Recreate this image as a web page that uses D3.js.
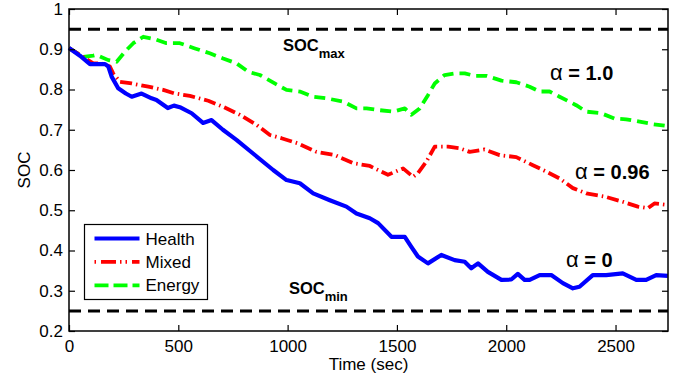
<!DOCTYPE html>
<html>
<head>
<meta charset="utf-8">
<script src="https://cdn.jsdelivr.net/npm/d3@7"></script>
<style>
  body { margin: 0; background: #fff; }
  svg { display: block; font-family: "Liberation Sans", Arial, sans-serif; }
</style>
</head>
<body>
<svg id="chart" width="680" height="377"></svg>
<script>
// SOC traces (time in sec, state of charge)
const healthTime = [0, 50, 96, 165, 180, 195, 225, 260, 287, 332, 378, 400, 452, 480, 507, 561, 613, 652, 704, 766, 842, 934, 995, 1056, 1117, 1193, 1269, 1315, 1376, 1414, 1475, 1536, 1566, 1596, 1642, 1703, 1764, 1810, 1840, 1871, 1916, 1978, 2023, 2053, 2084, 2107, 2153, 2206, 2259, 2305, 2335, 2396, 2457, 2533, 2595, 2640, 2686, 2739];
const healthSoc = [0.903, 0.884, 0.863, 0.863, 0.857, 0.832, 0.803, 0.790, 0.782, 0.790, 0.778, 0.774, 0.754, 0.760, 0.756, 0.741, 0.717, 0.724, 0.700, 0.675, 0.641, 0.600, 0.575, 0.567, 0.542, 0.525, 0.509, 0.492, 0.480, 0.468, 0.434, 0.434, 0.409, 0.385, 0.368, 0.389, 0.376, 0.372, 0.356, 0.368, 0.347, 0.327, 0.328, 0.342, 0.327, 0.327, 0.339, 0.339, 0.319, 0.306, 0.310, 0.339, 0.339, 0.343, 0.327, 0.327, 0.339, 0.337];

const mixedTime = [0, 50, 111, 149, 187, 202, 233, 287, 363, 431, 484, 553, 637, 705, 782, 858, 919, 972, 1048, 1132, 1216, 1299, 1376, 1459, 1528, 1574, 1596, 1635, 1673, 1734, 1787, 1833, 1901, 1970, 2046, 2122, 2183, 2244, 2305, 2366, 2450, 2533, 2602, 2648, 2678, 2739];
const mixedSoc = [0.903, 0.886, 0.865, 0.865, 0.857, 0.840, 0.819, 0.815, 0.807, 0.799, 0.790, 0.784, 0.772, 0.757, 0.737, 0.712, 0.687, 0.679, 0.666, 0.645, 0.637, 0.617, 0.610, 0.588, 0.604, 0.583, 0.592, 0.621, 0.658, 0.658, 0.654, 0.645, 0.651, 0.637, 0.632, 0.612, 0.596, 0.579, 0.555, 0.542, 0.534, 0.521, 0.509, 0.505, 0.517, 0.513];

const energyTime = [0, 65, 111, 126, 180, 218, 256, 294, 340, 393, 446, 507, 576, 644, 705, 766, 820, 873, 941, 995, 1056, 1117, 1178, 1254, 1315, 1361, 1414, 1482, 1536, 1566, 1604, 1642, 1673, 1718, 1764, 1810, 1855, 1909, 1978, 2046, 2107, 2153, 2198, 2244, 2320, 2366, 2434, 2495, 2549, 2610, 2670, 2739];
const energySoc = [0.903, 0.881, 0.884, 0.886, 0.873, 0.869, 0.894, 0.915, 0.931, 0.925, 0.915, 0.915, 0.902, 0.890, 0.877, 0.865, 0.844, 0.836, 0.815, 0.799, 0.795, 0.782, 0.778, 0.770, 0.753, 0.753, 0.749, 0.745, 0.753, 0.737, 0.753, 0.786, 0.815, 0.836, 0.840, 0.840, 0.834, 0.834, 0.822, 0.818, 0.807, 0.795, 0.795, 0.782, 0.761, 0.745, 0.741, 0.728, 0.726, 0.720, 0.714, 0.709];

const seriesNames = ["Health", "Mixed", "Energy"];
const socLimits = [0.95, 0.25];
const xTicks = [0, 500, 1000, 1500, 2000, 2500];
const yTicks = [0.2, 0.3, 0.4, 0.5, 0.6, 0.7, 0.8, 0.9, 1];

// annotation anchors in data units
const alphaLabels = [
  { t: 2200, soc: 0.824, value: "1.0" },
  { t: 2315, soc: 0.577, value: "0.96" },
  { t: 2273, soc: 0.359, value: "0" }
];
const limitLabels = [
  { t: 979, soc: 0.896, sub: "max" },
  { t: 1006, soc: 0.293, sub: "min" }
];

const styles = {
  Health: { color: "#0000ff", dash: null, width: 4.2 },
  Mixed: { color: "#ff0000", dash: "12,4,1.5,4", width: 3.8 },
  Energy: { color: "#00ff00", dash: "11,6", width: 3.8 }
};

const svg = d3.select("#chart");
const mLeft = 69, mRight = 668, mTop = 9, mBottom = 331;

const x = d3.scaleLinear().domain([0, 2740]).range([mLeft, mRight]);
const y = d3.scaleLinear().domain([0.2, 1]).range([mBottom, mTop]);

const series = [
  { name: "Health", pts: d3.zip(healthTime, healthSoc) },
  { name: "Mixed", pts: d3.zip(mixedTime, mixedSoc) },
  { name: "Energy", pts: d3.zip(energyTime, energySoc) }
];

const line = d3.line().x(d => x(d[0])).y(d => y(d[1]));

// SOC limits
svg.append("g")
  .selectAll("line")
  .data(socLimits)
  .join("line")
  .attr("x1", mLeft)
  .attr("x2", mRight)
  .attr("y1", d => y(d))
  .attr("y2", d => y(d))
  .attr("stroke", "#000")
  .attr("stroke-width", 3)
  .attr("stroke-dasharray", "12,7");

// traces, drawn energy first so health is on top
svg.append("g")
  .selectAll("path")
  .data(series.slice().reverse())
  .join("path")
  .attr("d", d => line(d.pts))
  .attr("fill", "none")
  .attr("stroke", d => styles[d.name].color)
  .attr("stroke-width", d => styles[d.name].width)
  .attr("stroke-linejoin", "round")
  .attr("stroke-dasharray", d => styles[d.name].dash);

// axes: ticks pointing inward on all four sides
const fmtY = d => d === 1 ? "1" : d.toFixed(1);
const axes = svg.append("g");

axes.append("g")
  .attr("transform", `translate(0,${mBottom})`)
  .call(d3.axisBottom(x).tickValues(xTicks).tickSizeInner(-6).tickSizeOuter(0).tickPadding(9).tickFormat(d3.format("d")));
axes.append("g")
  .attr("transform", `translate(0,${mTop})`)
  .call(d3.axisTop(x).tickValues(xTicks).tickSizeInner(-6).tickSizeOuter(0).tickFormat(""));
axes.append("g")
  .attr("transform", `translate(${mLeft},0)`)
  .call(d3.axisLeft(y).tickValues(yTicks).tickSizeInner(-6).tickSizeOuter(0).tickPadding(6).tickFormat(fmtY));
axes.append("g")
  .attr("transform", `translate(${mRight},0)`)
  .call(d3.axisRight(y).tickValues(yTicks).tickSizeInner(-6).tickSizeOuter(0).tickFormat(""));

axes.selectAll(".domain").remove();
axes.selectAll(".tick line").attr("stroke", "#000").attr("stroke-width", 1.2);
axes.selectAll(".tick text")
  .attr("fill", "#000")
  .attr("font-size", 17)
  .attr("font-family", "'Liberation Sans', Arial, sans-serif");

svg.append("rect")
  .attr("x", mLeft)
  .attr("y", mTop)
  .attr("width", mRight - mLeft)
  .attr("height", mBottom - mTop)
  .attr("fill", "none")
  .attr("stroke", "#000")
  .attr("stroke-width", 1.5);

// axis titles
svg.append("text")
  .attr("x", (mLeft + mRight) / 2)
  .attr("y", 370)
  .attr("text-anchor", "middle")
  .attr("font-size", 17)
  .attr("font-weight", "normal")
  .text("Time (sec)");

svg.append("text")
  .attr("transform", `translate(29.5,${(mTop + mBottom) / 2}) rotate(-90)`)
  .attr("text-anchor", "middle")
  .attr("font-size", 17)
  .text("SOC");

// SOC_max / SOC_min labels
const lim = svg.append("g")
  .selectAll("text")
  .data(limitLabels)
  .join("text")
  .attr("x", d => x(d.t))
  .attr("y", d => y(d.soc))
  .attr("font-weight", "bold")
  .attr("font-size", 16.5);
lim.append("tspan").text("SOC");
lim.append("tspan")
  .attr("dy", 7.5)
  .attr("font-size", 13)
  .text(d => d.sub);

// alpha labels
const al = svg.append("g")
  .selectAll("text")
  .data(alphaLabels)
  .join("text")
  .attr("x", d => x(d.t))
  .attr("y", d => y(d.soc))
  .attr("font-size", 20);
al.append("tspan").attr("font-size", 22).text("\u03b1");
al.append("tspan").attr("font-weight", "bold").text(d => " = " + d.value);

// legend
const legend = svg.append("g").attr("transform", "translate(84.5,224.5)");
legend.append("rect")
  .attr("width", 123)
  .attr("height", 75)
  .attr("fill", "#fff")
  .attr("stroke", "#000")
  .attr("stroke-width", 1.2);

const item = legend.selectAll("g.item")
  .data(seriesNames)
  .join("g")
  .attr("class", "item")
  .attr("transform", (d, i) => `translate(0,${14 + i * 23.4})`);
item.append("line")
  .attr("x1", 10)
  .attr("x2", 55)
  .attr("stroke", d => styles[d].color)
  .attr("stroke-width", d => styles[d].width)
  .attr("stroke-dasharray", d => d === "Mixed" ? "1.5,5,15,4,1.5,4" : d === "Energy" ? "14,5" : null);
item.append("text")
  .attr("x", 61)
  .attr("dy", "0.36em")
  .attr("font-size", 17)
  .text(d => d);
</script>
</body>
</html>
